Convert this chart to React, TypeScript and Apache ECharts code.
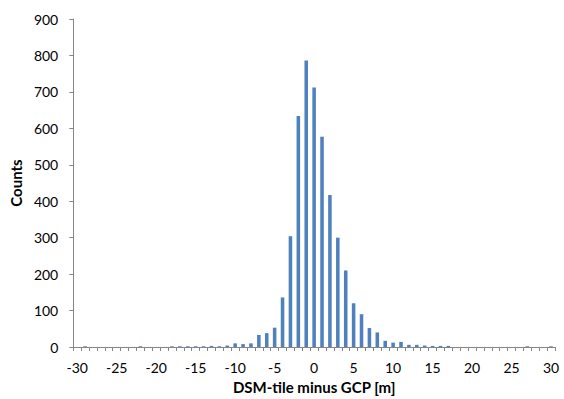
import React, { useEffect, useRef } from "react";
import * as echarts from "echarts";

const categories: string[] = [];
for (let v = -30; v <= 30; v++) categories.push(String(v));

const counts: number[] = [
  0, 2, 0, 0, 0, 0, 0, 0, 2, 0, // -30..-21
  0, 0, 2, 2, 2, 2, 2, 3, 2, 4, // -20..-11
  10, 8, 10, 33, 38, 53, 136, 304, 634, 786, // -10..-1
  712, // 0
  577, 417, 300, 210, 120, 90, 52, 40, 17, 12, // 1..10
  14, 6, 6, 4, 3, 3, 3, 0, 0, 0, // 11..20
  0, 0, 0, 0, 0, 0, 2, 0, 0, 2, // 21..30
];

const xName = "DSM-tile minus GCP [m]";
const yName = "Counts";

export default function App() {
  const ref = useRef<HTMLDivElement>(null);
  useEffect(() => {
    if (!ref.current) return;
    const chart = echarts.init(ref.current, null, { renderer: "svg" });
    const font = "Lato, 'Open Sans', sans-serif";
    chart.setOption({
      animation: false,
      backgroundColor: "#fff",
      grid: { left: 70, right: 9, top: 19, bottom: 50, containLabel: false },
      xAxis: {
        type: "category",
        data: categories,
        name: xName,
        nameLocation: "middle",
        nameGap: 32,
        nameTextStyle: { fontFamily: font, fontSize: 15, fontWeight: "bold", color: "#000" },
        axisLine: { lineStyle: { color: "#868686", width: 1 } },
        axisTick: { show: true, length: 4, interval: 0, lineStyle: { color: "#868686" } },
        axisLabel: { interval: 4, fontFamily: font, fontSize: 14, color: "#000", margin: 13 },
      },
      yAxis: {
        type: "value",
        min: 0,
        max: 900,
        interval: 100,
        name: yName,
        nameLocation: "middle",
        nameGap: 42,
        nameTextStyle: { fontFamily: font, fontSize: 15, fontWeight: "bold", color: "#000" },
        axisLine: { show: true, lineStyle: { color: "#868686", width: 1 } },
        axisTick: { show: true, length: 4, lineStyle: { color: "#868686" } },
        axisLabel: { fontFamily: font, fontSize: 14, color: "#000", margin: 15 },
        splitLine: { show: false },
      },
      series: [
        {
          type: "bar",
          data: counts,
          barWidth: "45%",
          itemStyle: { color: "#4F81BD" },
        },
      ],
    });
    return () => chart.dispose();
  }, []);
  return (
    <div
      ref={ref}
      style={{ position: "fixed", left: 0, top: 0, width: 564, height: 399 }}
    />
  );
}
